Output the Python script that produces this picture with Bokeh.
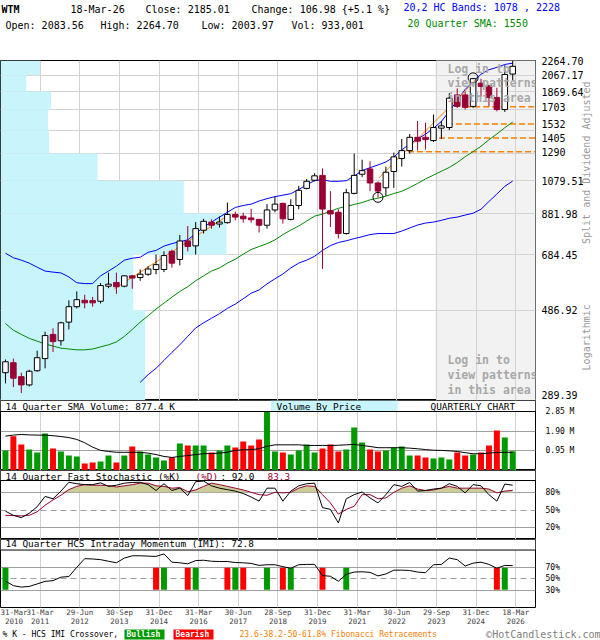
import math
import numpy as np
from bokeh.plotting import figure
from bokeh.models import (Range1d, FixedTicker, PrintfTickFormatter, CustomJSTickFormatter,
                          Label, Grid, Span)
from bokeh.layouts import column
from bokeh.core.properties import value
from bokeh.embed import file_html
from bokeh.resources import INLINE

# ---------------- data (quarterly, 2010Q1 .. 2026Q1) ----------------
open_ = [331, 352, 323, 307, 335, 361, 419, 403, 452, 497,
         517, 516, 514, 564, 577, 564, 601, 595, 607, 625,
         625, 699, 665, 745, 723, 796, 837, 827, 834, 877,
         868, 859, 851, 821, 902, 939, 851, 927, 1030, 1083,
         1116, 898, 889, 780, 999, 1124, 1161, 1065, 1034, 1143,
         1238, 1300, 1411, 1411, 1383, 1493, 1499, 1832, 1832, 1707,
         1969, 1942, 1802, 1674, 2083.56]
high_ = [359, 361, 331, 337, 379, 426, 435, 453, 517, 546,
         535, 528, 575, 613, 613, 603, 603, 625, 638, 685,
         699, 706, 773, 817, 837, 854, 851, 866, 944, 893,
         886, 908, 854, 935, 979, 944, 963, 1046, 1091, 1131,
         1166, 1013, 906, 1027, 1276, 1229, 1217, 1076, 1178, 1284,
         1397, 1440, 1560, 1544, 1624, 1560, 1851, 1908, 1870, 2035,
         2024, 1946, 1914, 2198, 2264.70]
low_ = [310, 303, 292, 304, 333, 340, 376, 391, 432, 492,
        492, 497, 507, 557, 538, 560, 555, 583, 601, 607,
        615, 632, 641, 699, 685, 780, 804, 809, 829, 846,
        834, 834, 785, 804, 889, 829, 846, 906, 1024, 1076,
        627, 812, 757, 775, 993, 1104, 1013, 975, 983, 1034,
        1178, 1276, 1300, 1308, 1370, 1397, 1475, 1690, 1674, 1690,
        1813, 1707, 1656, 1650, 2003.97]
close_ = [354, 320, 307, 334, 363, 416, 401, 450, 497, 519,
          509, 509, 566, 571, 562, 601, 593, 607, 627, 644,
          681, 650, 745, 720, 804, 841, 821, 837, 877, 863,
          854, 849, 821, 902, 935, 854, 927, 1018, 1076, 1113,
          907, 880, 780, 1003, 1116, 1149, 1065, 1013, 1138, 1251,
          1300, 1411, 1378, 1391, 1499, 1514, 1796, 1707, 1697, 2025,
          1930, 1802, 1674, 2078.03, 2185.01]
volume_m = [0.97, 1.66, 1.26, 1.01, 0.87, 1.79, 1.06, 0.92, 0.72, 0.68,
            0.34, 0.39, 0.43, 0.72, 0.39, 0.72, 1.16, 0.92, 0.77, 0.63,
            0.48, 0.63, 1.30, 1.21, 1.21, 1.21, 0.87, 0.97, 1.21, 1.11,
            1.40, 1.21, 1.50, 2.84, 0.92, 0.87, 0.77, 0.97, 1.26, 0.87,
            1.06, 1.26, 0.92, 1.01, 2.08, 1.35, 1.01, 0.92, 0.97, 1.11,
            1.16, 0.72, 0.72, 0.63, 0.58, 0.63, 0.53, 0.87, 0.72, 0.77,
            0.87, 1.21, 1.93, 1.59, 0.933]
volume_sma_m = [1.66, 1.71, 1.74, 1.72, 1.71, 1.71, 1.68, 1.64, 1.59, 1.50,
                1.34, 1.13, 0.97, 0.92, 0.88, 0.88, 0.88, 0.88, 0.84, 0.77,
                0.68, 0.63, 0.68, 0.72, 0.77, 0.81, 0.82, 0.84, 0.88, 0.97,
                1.00, 1.01, 1.05, 1.17, 1.24, 1.24, 1.24, 1.24, 1.21, 1.21,
                1.21, 1.21, 1.22, 1.24, 1.26, 1.21, 1.16, 1.10, 1.10, 1.10,
                1.10, 1.08, 1.05, 1.01, 0.98, 0.97, 0.95, 0.92, 0.86, 0.81,
                0.81, 0.84, 0.87, 0.88, 0.877]
hc_upper = [691, 672, 662, 650, 634, 619, 615, 612, 597, 576,
            573, 573, 601, 619, 638, 662, 670, 674, 695, 703,
            722, 733, 742, 750, 779, 812, 837, 863, 889, 916,
            927, 935, 953, 967, 979, 988, 997, 1023, 1053, 1080,
            1087, 1076, 1076, 1080, 1111, 1150, 1170, 1190, 1212, 1250,
            1305, 1355, 1398, 1438, 1492, 1556, 1655, 1773, 1895, 1990,
            2080, 2140, 2170, 2210, 2228]
hc_lower = [np.nan] * 17 + [312, 327, 340, 357, 375, 393, 414, 436, 450, 463,
                            476, 492, 505, 522, 540, 551, 572, 590, 608, 631,
                            650, 662, 678, 703, 724, 738, 746, 756, 765, 775,
                            780, 780, 780, 792, 807, 822, 832, 837, 846, 857,
                            863, 874, 884, 906, 950, 995, 1043, 1078]
sma20 = [448, 430, 419, 409, 402, 395, 390, 385, 383, 381,
         381, 383, 388, 393, 400, 414, 432, 452, 470, 490,
         508, 527, 546, 562, 583, 601, 619, 631, 650, 666,
         687, 707, 720, 733, 750, 775, 797, 817, 842, 868,
         879, 895, 911, 922, 933, 944, 960, 970, 982, 998,
         1012, 1035, 1062, 1092, 1118, 1145, 1172, 1208, 1252, 1292,
         1335, 1390, 1440, 1497, 1550]
stoch_k = [48, 41, 37, 44.5, 55.5, 73, 69, 82, 97, 94.5,
           93, 93, 96, 90, 92, 95.5, 96.7, 97, 93, 83,
           94.5, 83, 87, 74.5, 98, 99, 91, 87, 84.5, 82,
           78, 72, 65, 87, 87, 65, 82, 91, 94.5, 95.5,
           54, 51, 28, 69, 76, 80.5, 70.5, 62, 76, 93,
           90, 96.7, 82, 83, 85.5, 87, 94.5, 90, 79, 93,
           91, 76, 65, 94, 92]
stoch_d = [41, 40.5, 40, 41, 47, 58, 67, 75, 84.5, 90,
           93, 92, 92, 91.5, 89, 91, 93, 95.5, 95.5, 91,
           90, 87, 88, 81, 84, 90, 95.5, 93, 90, 87,
           84, 80, 76, 75, 80, 79, 80, 87, 91, 90,
           76, 62, 43, 51, 56.5, 76, 76, 69, 70.5, 80,
           87, 91, 85.5, 83, 84, 87, 90, 87, 87, 87,
           87, 85.5, 79, 82, 83.3]
imi = [46, 38, 35.5, 36.7, 41, 45.5, 46.7, 52.8, 53.9, 70,
       85, 84.4, 83.3, 80.5, 77.8, 86, 90, 90, 89.4, 88.9,
       93.3, 78.9, 77.8, 76, 81.7, 82.2, 80.5, 80, 80, 78.3,
       77.8, 76.7, 73.3, 74.4, 74.4, 71, 68.3, 74.4, 75, 75,
       55.5, 54.4, 45.6, 57.8, 61.7, 62.2, 61.1, 55, 58.3, 65,
       65, 64.4, 61.7, 60.5, 74.4, 75, 86, 83.3, 72.2, 77.2,
       78.9, 75, 68.3, 73.3, 72.8]
imi_bull_idx = [0, 20, 24, 29, 33, 36, 43, 63]
imi_bear_idx = [19, 23, 28, 30, 35, 40, 62]
price_ticks = [289.39, 486.92, 684.45, 881.98, 1079.51, 1277.04, 1474.57, 1672.10, 1869.64, 2067.17, 2264.70]
price_ticks_labelled = [289.39, 486.92, 684.45, 881.98, 1079.51, 1869.64, 2067.17, 2264.70]
vbp_volume = [14.6, 13.4, 22.8, 18.5, 9.8, 4.9, 4.8, 5.1, 2.6, 4.0]   # bands bottom -> top
fib_levels = [1703, 1532, 1405, 1290]
fib_start_idx = [58.0, 55.7, 54.7, 50.8]
trend_x0 = [13.75, 47.1]
trend_y0 = [555, 1098]
trend_x1 = [28.1, 59.0]
trend_y1 = [872, 1970]
pivot_idx = [47, 59]
pivot_price = [975, 2035]
vol_ticks = [0.95, 1.90, 2.85]
stoch_ticks = [20, 50, 80]
imi_ticks = [30, 50, 70]
x_tick_labels = ["31-Mar\n2010", "31-Mar\n2011", "29-Jun\n2012", "30-Sep\n2013", "31-Dec\n2014",
                 "31-Mar\n2016", "30-Jun\n2017", "28-Sep\n2018", "31-Dec\n2019", "31-Mar\n2021",
                 "30-Jun\n2022", "29-Sep\n2023", "31-Dec\n2024", "18-Mar\n2026"]

# ---------------- styling / layout ----------------
FONT = "DejaVu Sans Mono"
W = 600
RB = 60
CRIMSON = "#990033"
GREEN = "#009900"
RED = "#FF0000"
ORANGE = "#FF8000"
GRIDC = "#D3D3D3"
SUBGRID = "#A0A0A0"
CYAN = "#C8F4FC"
NB = "\u00a0"
XR = Range1d(-0.625, 66.875)          # 8 px per quarter over a 540 px frame
grid_pos = [5 * k - 0.625 for k in range(len(x_tick_labels))]
label_pos = [1.06] + grid_pos[1:]
LOGIN_START = 54.375


def px_to_idx(px):
    return XR.start + px / 8.0


idx = np.arange(len(close_))
o = np.array(open_, dtype=float); c = np.array(close_, dtype=float)
h = np.array(high_, dtype=float); l = np.array(low_, dtype=float)
up = c >= o


def text_row(hh):
    p = figure(width=W, height=hh, x_range=Range1d(0, W), y_range=Range1d(hh, 0),
               toolbar_location=None, output_backend="svg", title=None,
               x_axis_location=None, y_axis_location=None,
               min_border_left=0, min_border_right=0, min_border_top=0, min_border_bottom=0)
    try:
        p.frame_align = False
    except Exception:
        p.x_range = Range1d(0, W - RB)
        p.min_border_right = RB
    p.grid.visible = False
    p.outline_line_color = None
    p.background_fill_color = "white"
    p.border_fill_color = "white"
    return p


def txt(p, x, y, s, color="black", size="10px", style="normal", align="left"):
    p.text(x=[x], y=[y], text=[s], text_font=value(FONT), text_font_size=size,
           text_font_style=style, text_color=color, text_align=align, text_baseline="middle")


def lab(p, x, y, s, color="black", size="9.4px", style="normal"):
    p.add_layout(Label(x=x, y=y, x_units="screen", y_units="screen", text=s,
                       text_font=FONT, text_font_size=size, text_font_style=style,
                       text_color=color, text_baseline="middle", text_align="left"))


def panel(hh, y_range, y_type="linear", top=0, bottom=0):
    p = figure(width=W, height=hh + top + bottom, x_range=XR, y_range=y_range, y_axis_type=y_type,
               y_axis_location="right", x_axis_location=("below" if bottom else None),
               toolbar_location=None, output_backend="svg", title=None,
               min_border_left=0, min_border_right=RB, min_border_top=top, min_border_bottom=bottom)
    p.outline_line_color = "black"
    p.outline_line_width = 1
    p.background_fill_color = "white"
    p.border_fill_color = "white"
    p.xgrid.ticker = FixedTicker(ticks=grid_pos)
    p.xgrid.grid_line_color = GRIDC
    ax = p.yaxis[0]
    ax.axis_line_color = None
    ax.major_tick_line_color = None
    ax.minor_tick_line_color = None
    ax.major_tick_out = 0
    ax.major_tick_in = 0
    ax.minor_tick_out = 0
    ax.minor_tick_in = 0
    ax.major_label_text_font = FONT
    ax.major_label_text_color = "black"
    return p


# ---------------- header ----------------
hdr = text_row(54)
txt(hdr, 1, 9, "WTM", style="bold")
txt(hdr, 70, 9, "18-Mar-26")
txt(hdr, 145, 9, "Close: 2185.01")
txt(hdr, 251, 9, "Change: 106.98 {+5.1 %}")
txt(hdr, 403, 7, "20,2 HC Bands: 1078 , 2228", color="#0000FF")
txt(hdr, 5, 25, "Open: 2083.56")
txt(hdr, 100, 25, "High: 2264.70")
txt(hdr, 201, 25, "Low: 2003.97")
txt(hdr, 291, 25, "Vol: 933,001")
txt(hdr, 407, 23, "20 Quarter SMA: 1550", color="#008800")

# ---------------- main price panel ----------------
lo_t, hi_t = price_ticks[0], price_ticks[-1]
per_px = math.log(hi_t / lo_t) / 334.0
y_lo = lo_t * math.exp(-6 * per_px)           # 6 px of room under the lowest tick
pm = panel(340, Range1d(y_lo, hi_t), y_type="log", top=6)
pm.ygrid.ticker = FixedTicker(ticks=price_ticks[1:])
pm.ygrid.grid_line_color = GRIDC
pm.yaxis.ticker = FixedTicker(ticks=price_ticks_labelled + fib_levels)
pm.yaxis.formatter = CustomJSTickFormatter(args=dict(fib=fib_levels), code="""
return fib.includes(tick) ? tick.toFixed(0) : tick.toFixed(2);
""")
pm.yaxis.major_label_text_font_size = "10px"
pm.yaxis.major_label_standoff = 6
ax = pm.yaxis[0]
ax.axis_label_text_font = FONT
ax.axis_label_text_font_size = "10px"
ax.axis_label_text_font_style = "normal"
ax.axis_label_text_color = "#999999"
ax.axis_label_standoff = 0
try:
    ax.axis_label_align = "start"
    ax.axis_label_orientation = math.pi / 2
    ax.axis_label = NB * 5 + "Logarithmic" + NB * 10 + "Split and Dividend Adjusted"
except Exception:
    ax.axis_label_orientation = "parallel"
    ax.axis_label = "Split and Dividend Adjusted" + NB * 10 + "Logarithmic"

# login (hidden patterns) area
pm.quad(left=[LOGIN_START], right=[XR.end], bottom=[y_lo], top=[hi_t],
        fill_color="#F2F2F2", line_color="#999999", line_width=1, level="image")
# volume by price
vbp = np.array(vbp_volume)
band_bottoms = [y_lo] + price_ticks[1:-1]
pm.quad(left=XR.start, right=XR.start + vbp * 1.25, bottom=band_bottoms, top=price_ticks[1:],
        fill_color=CYAN, line_color=None)
# fib lines
pm.segment(x0=fib_start_idx, y0=fib_levels, x1=[XR.end] * len(fib_levels), y1=fib_levels,
           line_color=ORANGE, line_dash="6 3", line_width=1.5)
# bands
pm.line(idx, hc_upper, line_color="#0000FF", line_width=1)
pm.line(idx, hc_lower, line_color="#0000FF", line_width=1)
pm.line(idx, sma20, line_color="#008800", line_width=1)
# trend lines
pm.segment(x0=trend_x0, y0=trend_y0, x1=trend_x1, y1=trend_y1, line_color=ORANGE, line_width=1)
# candles
wick_col = np.where(up, "black", CRIMSON).tolist()
pm.segment(x0=idx, y0=l, x1=idx, y1=h, line_color=wick_col, line_width=1)
pm.vbar(x=idx[up], bottom=o[up], top=c[up], width=0.7, fill_color="white", line_color="black")
pm.vbar(x=idx[~up], bottom=c[~up], top=o[~up], width=0.7, fill_color=CRIMSON, line_color=CRIMSON)
pm.scatter(pivot_idx, pivot_price, marker="circle", size=10, fill_color=None, line_color="black")

for s, yy in [("Log in to", 332), ("view patterns", 318), ("in this area", 303),
              ("Log in to", 41), ("view patterns", 26), ("in this area", 11)]:
    lab(pm, 447, yy, s, color="#A8A8A8", size="11.5px", style="bold")

# ---------------- volume (frame includes its title strip) ----------------
vol_top = vol_ticks[-1] * 70.0 / 59.0
pv = panel(70, Range1d(0, vol_top))
pv.ygrid.ticker = FixedTicker(ticks=vol_ticks[:2])
pv.ygrid.grid_line_color = SUBGRID
pv.yaxis.ticker = FixedTicker(ticks=vol_ticks)
pv.yaxis.formatter = PrintfTickFormatter(format="%.2f M")
pv.yaxis.major_label_text_font_size = "8px"
pv.yaxis.major_label_standoff = 10
vcol = np.where(up, GREEN, RED).tolist()
pv.vbar(x=idx, bottom=0, top=volume_m, width=0.75, fill_color=vcol, line_color=None)
pv.line(idx, volume_sma_m, line_color="black", line_width=1)
pv.quad(left=[XR.start], right=[XR.end], bottom=[vol_ticks[-1]], top=[vol_top],
        fill_color="white", line_color=None)
pv.quad(left=[px_to_idx(273)], right=[px_to_idx(401)], bottom=[vol_ticks[-1]], top=[vol_top],
        fill_color=CYAN, line_color=None)
pv.add_layout(Span(location=vol_ticks[-1], dimension="width", line_color="black", line_width=1))
lab(pv, 5, 64, "14 Quarter SMA Volume: 877.4 K")
lab(pv, 276, 64, "Volume By Price")
lab(pv, 430, 64, "QUARTERLY CHART")

# ---------------- stochastic ----------------
st_top = 100.0 * 69.0 / 59.0
ps = panel(69, Range1d(0, st_top))
ps.ygrid.ticker = FixedTicker(ticks=[stoch_ticks[0], stoch_ticks[2]])
ps.ygrid.grid_line_color = SUBGRID
ps.add_layout(Grid(dimension=1, ticker=FixedTicker(ticks=[stoch_ticks[1]]), grid_line_color=SUBGRID,
                   grid_line_dash="6 4"), "center")
ps.yaxis.ticker = FixedTicker(ticks=stoch_ticks)
ps.yaxis.formatter = PrintfTickFormatter(format="%d%%")
ps.yaxis.major_label_text_font_size = "8px"
ps.yaxis.major_label_standoff = 10
dd = np.array(stoch_d, dtype=float)
ps.varea(x=idx, y1=80, y2=np.maximum(dd, 80), fill_color="#CCCC99")
ps.line(idx, stoch_d, line_color=CRIMSON, line_width=1)
ps.line(idx, stoch_k, line_color="black", line_width=1)
ps.quad(left=[XR.start], right=[XR.end], bottom=[100], top=[st_top], fill_color="white", line_color=None)
ps.add_layout(Span(location=100, dimension="width", line_color="black", line_width=1))
lab(ps, 5, 63, "14 Quarter Fast Stochastic (%K)")
lab(ps, 195, 63, "(%D)", color=CRIMSON)
lab(ps, 220, 63, ": 92.0")
lab(ps, 267, 63, "83.3", color=CRIMSON)

# ---------------- IMI ----------------
imi_top = 100.0 * 71.0 / 60.0
pi = panel(71, Range1d(0, imi_top), bottom=18)
pi.ygrid.ticker = FixedTicker(ticks=[imi_ticks[0], imi_ticks[2]])
pi.ygrid.grid_line_color = SUBGRID
pi.add_layout(Grid(dimension=1, ticker=FixedTicker(ticks=[imi_ticks[1]]), grid_line_color=SUBGRID,
                   grid_line_dash="6 4"), "center")
pi.yaxis.ticker = FixedTicker(ticks=imi_ticks)
pi.yaxis.formatter = PrintfTickFormatter(format="%d%%")
pi.yaxis.major_label_text_font_size = "8px"
pi.yaxis.major_label_standoff = 10
xa = pi.xaxis[0]
xa.ticker = FixedTicker(ticks=label_pos)
xa.formatter = CustomJSTickFormatter(args=dict(pos=label_pos, labels=x_tick_labels), code="""
for (let i = 0; i < pos.length; i++) { if (Math.abs(pos[i] - tick) < 1e-6) { return labels[i]; } }
return "";
""")
xa.axis_line_color = None
xa.major_tick_line_color = None
xa.minor_tick_line_color = None
xa.major_tick_out = 0
xa.major_tick_in = 0
xa.minor_tick_out = 0
xa.minor_tick_in = 0
xa.major_label_standoff = 0
xa.major_label_text_font = FONT
xa.major_label_text_font_size = "7.5px"
xa.major_label_text_line_height = 1.0
xa.major_label_text_color = "#444444"
pi.vbar(x=imi_bull_idx, bottom=31, top=69, width=0.75, fill_color=GREEN, line_color=None)
pi.vbar(x=imi_bear_idx, bottom=31, top=69, width=0.75, fill_color=RED, line_color=None)
pi.line(idx, imi, line_color="black", line_width=1)
pi.quad(left=[XR.start], right=[XR.end], bottom=[100], top=[imi_top], fill_color="white", line_color=None)
pi.add_layout(Span(location=100, dimension="width", line_color="black", line_width=1))
lab(pi, 5, 64.5, "14 Quarter HCS Intraday Momentum (IMI): 72.8")

# ---------------- footer ----------------
ft = text_row(12)
txt(ft, 2, 6, "% K - HCS IMI Crossover,", size="8px")
ft.quad(left=[124], right=[164], top=[1], bottom=[11], fill_color=GREEN, line_color=None)
txt(ft, 126, 6, "Bullish", color="white", size="8px", style="bold")
ft.quad(left=[173], right=[213], top=[1], bottom=[11], fill_color=RED, line_color=None)
txt(ft, 175, 6, "Bearish", color="white", size="8px", style="bold")
txt(ft, 239, 6, "23.6-38.2-50-61.8% Fibonacci Retracements", color=ORANGE, size="8px")
txt(ft, 600, 6, "\u00a9HotCandlestick.com", color="#808080", size="10px", align="right")

layout = column(hdr, pm, pv, ps, pi, ft, spacing=0)
open("out.html", "w").write(file_html(layout, INLINE))
